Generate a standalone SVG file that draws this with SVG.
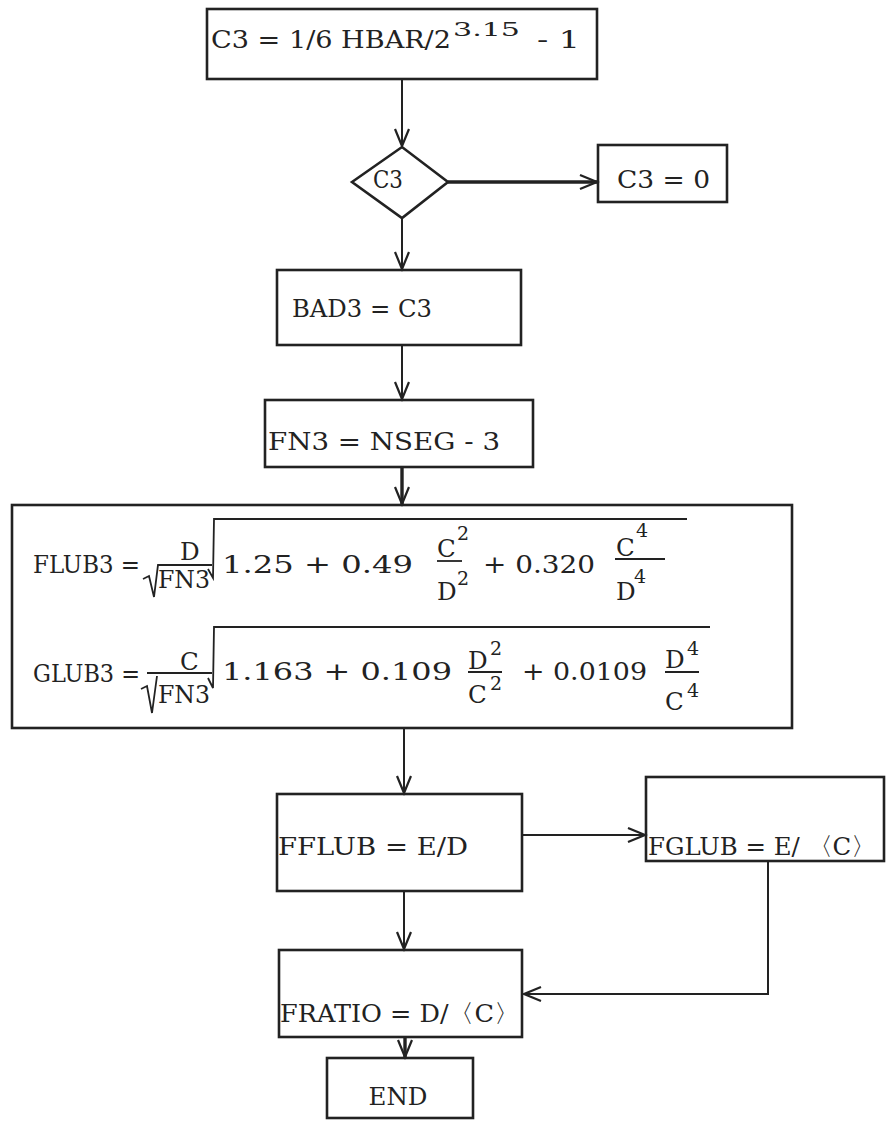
<svg xmlns="http://www.w3.org/2000/svg" width="886" height="1126" viewBox="0 0 886 1126">
<style>
.t{font-family:"DejaVu Serif","Liberation Serif",serif;fill:#222;font-size:24.5px}
.s{font-size:19px}
.b{fill:none;stroke:#222;stroke-width:2.6}
.c{fill:none;stroke:#222;stroke-width:2}
.k{stroke-width:3.4}
.m{fill:none;stroke:#222;stroke-width:1.8}
</style>
<defs>
<marker id="ah" markerUnits="userSpaceOnUse" markerWidth="22" markerHeight="18" refX="18" refY="8" orient="auto">
<path d="M1,1 L18,8 L1,15" fill="none" stroke="#222" stroke-width="2.2"/>
</marker>
</defs>
<rect width="886" height="1126" fill="#ffffff"/>
<g id="connectors">
<path class="c" d="M402,80 V146" marker-end="url(#ah)"/>
<path class="c k" d="M448,182 H597" marker-end="url(#ah)"/>
<path class="c" d="M402,218 V269" marker-end="url(#ah)"/>
<path class="c" d="M402,345 V399" marker-end="url(#ah)"/>
<path class="c k" d="M402,467 V504" marker-end="url(#ah)"/>
<path class="c" d="M404,728 V793" marker-end="url(#ah)"/>
<path class="c" d="M522,835 H645" marker-end="url(#ah)"/>
<path class="c" d="M404,891 V949" marker-end="url(#ah)"/>
<path class="c" d="M768,861 V994 H524" marker-end="url(#ah)"/>
<path class="c k" d="M405,1037 V1057" marker-end="url(#ah)"/>
</g>
<g id="n_c3calc">
<rect class="b" x="207" y="9" width="390" height="70"/>
<text class="t" x="211" y="48" textLength="240" lengthAdjust="spacingAndGlyphs">C3 = 1/6 HBAR/2</text>
<text class="t s" x="453" y="36" textLength="67" lengthAdjust="spacingAndGlyphs">3.15</text>
<text class="t" x="537" y="48" textLength="43" lengthAdjust="spacingAndGlyphs">- 1</text>
</g>
<g id="n_decision">
<polygon class="b" points="352,182 402,147 448,182 402,218"/>
<text class="t" x="373" y="188" textLength="30" lengthAdjust="spacingAndGlyphs">C3</text>
</g>
<g id="n_c3zero">
<rect class="b" x="598" y="145" width="129" height="57"/>
<text class="t" x="617" y="188" textLength="93" lengthAdjust="spacingAndGlyphs">C3 = 0</text>
</g>
<g id="n_bad3">
<rect class="b" x="277" y="270" width="244" height="75"/>
<text class="t" x="292" y="317" textLength="140" lengthAdjust="spacingAndGlyphs">BAD3 = C3</text>
</g>
<g id="n_fn3">
<rect class="b" x="265" y="400" width="268" height="67"/>
<text class="t" x="268" y="450" textLength="232" lengthAdjust="spacingAndGlyphs">FN3 = NSEG - 3</text>
</g>
<g id="n_lub">
<rect class="b" x="12" y="505" width="780" height="223"/>
<text class="t" x="33" y="573" textLength="107" lengthAdjust="spacingAndGlyphs">FLUB3 =</text>
<text class="t" x="180" y="560">D</text>
<path class="m" d="M143,579 L149,576 L154,597 L158,565 H212"/>
<text class="t" x="158" y="588" textLength="52" lengthAdjust="spacingAndGlyphs">FN3</text>
<path class="m" d="M208,569 L213,578 L214,519 H687"/>
<text class="t" x="222" y="573" textLength="191" lengthAdjust="spacingAndGlyphs">1.25 + 0.49</text>
<text class="t" x="437" y="557">C</text>
<text class="t s" x="457" y="540">2</text>
<path class="m" d="M437,561 H462"/>
<text class="t" x="437" y="600">D</text>
<text class="t s" x="457" y="585">2</text>
<text class="t" x="483" y="573" textLength="112" lengthAdjust="spacingAndGlyphs">+ 0.320</text>
<text class="t" x="616" y="556">C</text>
<text class="t s" x="636" y="537">4</text>
<path class="m" d="M615,559 H665"/>
<text class="t" x="616" y="600">D</text>
<text class="t s" x="634" y="583">4</text>

<text class="t" x="33" y="682" textLength="107" lengthAdjust="spacingAndGlyphs">GLUB3 =</text>
<text class="t" x="180" y="670">C</text>
<path class="m" d="M141,689 L147,686 L152,713 L157,676 M147,673 H212"/>
<text class="t" x="158" y="703" textLength="52" lengthAdjust="spacingAndGlyphs">FN3</text>
<path class="m" d="M208,678 L213,688 L214,627 H710"/>
<text class="t" x="222" y="680" textLength="230" lengthAdjust="spacingAndGlyphs">1.163 + 0.109</text>
<text class="t" x="468" y="669">D</text>
<text class="t s" x="490" y="655">2</text>
<path class="m" d="M468,672 H502"/>
<text class="t" x="468" y="703">C</text>
<text class="t s" x="490" y="690">2</text>
<text class="t" x="522" y="680" textLength="125" lengthAdjust="spacingAndGlyphs">+ 0.0109</text>
<text class="t" x="665" y="668">D</text>
<text class="t s" x="687" y="655">4</text>
<path class="m" d="M665,672 H699"/>
<text class="t" x="665" y="710">C</text>
<text class="t s" x="687" y="697">4</text>
</g>
<g id="n_fflub">
<rect class="b" x="277" y="794" width="245" height="97"/>
<text class="t" x="278" y="855" textLength="190" lengthAdjust="spacingAndGlyphs">FFLUB = E/D</text>
</g>
<g id="n_fglub">
<rect class="b" x="646" y="777" width="238" height="84"/>
<text class="t" x="648" y="855" textLength="228" lengthAdjust="spacingAndGlyphs">FGLUB = E/ 〈C〉</text>
</g>
<g id="n_fratio">
<rect class="b" x="279" y="950" width="243" height="87"/>
<text class="t" x="280" y="1022" textLength="240" lengthAdjust="spacingAndGlyphs">FRATIO = D/〈C〉</text>
</g>
<g id="n_end">
<rect class="b" x="327" y="1058" width="146" height="60"/>
<text class="t" x="398" y="1105" text-anchor="middle">END</text>
</g>
</svg>
